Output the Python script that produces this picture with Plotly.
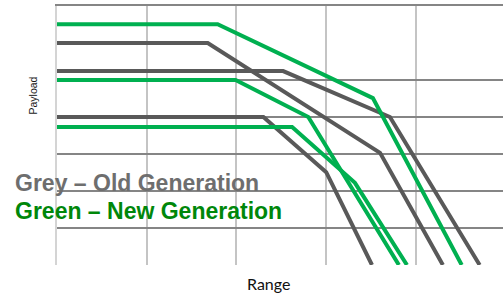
import plotly.graph_objects as go

# Range (x) / Payload (y) break points, in grid units
old_top_x = [0.0, 1.68, 3.60, 4.30]
old_top_y = [6.0, 6.0, 3.03, 0.0]
old_mid_x = [0.0, 2.52, 3.71, 4.71]
old_mid_y = [5.24, 5.24, 4.0, 0.0]
old_low_x = [0.0, 2.30, 3.00, 3.51]
old_low_y = [4.0, 4.0, 2.51, 0.0]

new_top_x = [0.0, 1.79, 3.52, 4.51]
new_top_y = [6.51, 6.51, 4.51, 0.0]
new_mid_x = [0.0, 1.99, 2.80, 3.81]
new_mid_y = [5.0, 5.0, 4.0, 0.0]
new_low_x = [0.0, 2.62, 3.32, 3.90]
new_low_y = [3.73, 3.73, 2.22, 0.0]

x_grid = [1, 2, 3, 4]
y_grid = [1, 2, 3, 4, 5, 7]

GREY = "#595959"
GREEN = "#00b050"

fig = go.Figure()
for xs, ys in [(old_top_x, old_top_y), (old_mid_x, old_mid_y), (old_low_x, old_low_y)]:
    fig.add_trace(go.Scatter(x=xs, y=ys, mode="lines",
                             line=dict(color=GREY, width=4), hoverinfo="skip"))
for xs, ys in [(new_top_x, new_top_y), (new_mid_x, new_mid_y), (new_low_x, new_low_y)]:
    fig.add_trace(go.Scatter(x=xs, y=ys, mode="lines",
                             line=dict(color=GREEN, width=4), hoverinfo="skip"))

fig.update_layout(
    width=503, height=293,
    margin=dict(l=57, r=0, t=6, b=28),
    paper_bgcolor="white", plot_bgcolor="white",
    showlegend=False,
    xaxis=dict(range=[0, 4.97], tickvals=x_grid, showticklabels=False,
               showgrid=True, gridcolor="#c4c4c4", gridwidth=1.5,
               zeroline=False, showline=False, ticks=""),
    xaxis2=dict(overlaying="x", side="top", matches="x", showticklabels=False,
                showgrid=False, zeroline=False, showline=True,
                linecolor="#858585", linewidth=1.5, ticks=""),
    yaxis=dict(range=[0, 7], tickvals=y_grid, showticklabels=False,
               showgrid=True, gridcolor="#858585", gridwidth=1.5,
               zeroline=False, showline=True, linecolor="#d4d4d4", linewidth=2,
               ticks=""),
    annotations=[
        dict(text="<b>Grey – Old Generation</b>", xref="paper", yref="paper",
             x=(13 - 57) / 446, y=(265 - 183) / 259, xanchor="left", yanchor="middle",
             showarrow=False, font=dict(family="Liberation Sans", size=23, color="#6e6e6e")),
        dict(text="<b>Green – New Generation</b>", xref="paper", yref="paper",
             x=(13 - 57) / 446, y=(265 - 211) / 259, xanchor="left", yanchor="middle",
             showarrow=False, font=dict(family="Liberation Sans", size=23, color="#00870a")),
        dict(text="Payload", xref="paper", yref="paper",
             x=(32.5 - 57) / 446, y=(265 - 96) / 259, xanchor="center", yanchor="middle",
             textangle=-90, showarrow=False,
             font=dict(family="Liberation Sans", size=10.5, color="#1a1a1a")),
        dict(text="Range", xref="paper", yref="paper",
             x=(268.5 - 57) / 446, y=(265 - 283) / 259, xanchor="center", yanchor="middle",
             showarrow=False, font=dict(family="Lato", size=16, color="#111111")),
    ],
)
# empty trace to activate the top axis line
fig.add_trace(go.Scatter(x=[], y=[], xaxis="x2", hoverinfo="skip"))

fig.write_html("out.html", config={"displayModeBar": False},
               post_script="document.body.style.margin='0px';")
